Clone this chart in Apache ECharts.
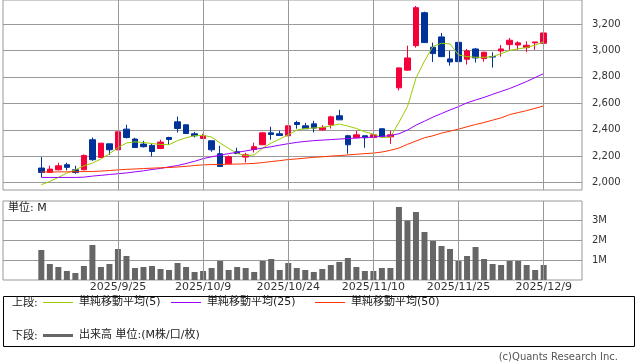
<!DOCTYPE html>
<html><head><meta charset="utf-8">
<script src="https://cdn.jsdelivr.net/npm/echarts@6/dist/echarts.min.js"></script>
<style>html,body{margin:0;padding:0;background:#fff}#c{width:638px;height:362px}</style>
</head><body><div id="c"></div>
<script>
const dates = ['2025/9/10','2025/9/11','2025/9/12','2025/9/16','2025/9/17','2025/9/18','2025/9/19','2025/9/22','2025/9/24','2025/9/25',
'2025/9/26','2025/9/29','2025/9/30','2025/10/1','2025/10/2','2025/10/3','2025/10/6','2025/10/7','2025/10/8','2025/10/9',
'2025/10/10','2025/10/14','2025/10/15','2025/10/16','2025/10/17','2025/10/20','2025/10/21','2025/10/22','2025/10/23','2025/10/24',
'2025/10/27','2025/10/28','2025/10/29','2025/10/30','2025/10/31','2025/11/4','2025/11/5','2025/11/6','2025/11/7','2025/11/10',
'2025/11/11','2025/11/12','2025/11/13','2025/11/14','2025/11/17','2025/11/18','2025/11/19','2025/11/20','2025/11/21','2025/11/25',
'2025/11/26','2025/11/27','2025/11/28','2025/12/1','2025/12/2','2025/12/3','2025/12/4','2025/12/5','2025/12/8','2025/12/9'];
const tickLabels = ['2025/9/25','2025/10/9','2025/10/24','2025/11/10','2025/11/25','2025/12/9'];
const priceTicks = [2000,2200,2400,2600,2800,3000,3200];
const volTicks = [1,2,3];

const openP  = [2111,2078,2098,2136,2098,2098,2325,2191,2294,2249, 2405,2330,2292,2282,2259,2342,2460,2438,2370,2334,
                2317,2219,2143,2234,2194,2251,2287,2377,2370,2355, 2455,2430,2445,2400,2438,2506,2355,2340,2355,2342,
                2408,2347,2717,2851,3036,3285,3024,3102,2936,3061, 2933,3011,2938,2953,2996,3044,3041,3021,3057,3054];
const closeP = [2078,2103,2128,2116,2078,2206,2174,2299,2249,2385, 2342,2266,2272,2236,2307,2327,2410,2372,2355,2355,
                2249,2123,2196,2221,2211,2272,2377,2365,2357,2430, 2440,2408,2413,2418,2498,2475,2287,2362,2340,2362,
                2347,2362,2868,2943,3323,3059,2976,2953,2913,2915, 2996,2943,2986,2950,3011,3077,3057,3039,3064,3132];
const lowP   = [2043,2073,2093,2093,2068,2093,2166,2191,2211,2249, 2334,2266,2266,2198,2254,2287,2380,2372,2342,2330,
                2234,2123,2143,2216,2153,2229,2284,2325,2357,2352, 2408,2408,2380,2392,2410,2475,2219,2340,2264,2340,
                2347,2294,2697,2845,3021,3059,2913,2950,2885,2915, 2893,2908,2915,2870,2953,2996,3004,2986,3004,3029];
const highP  = [2194,2128,2151,2151,2128,2214,2342,2299,2294,2385, 2438,2340,2317,2294,2325,2347,2500,2438,2385,2370,
                2317,2279,2206,2264,2226,2302,2380,2423,2392,2433, 2468,2453,2468,2435,2506,2551,2362,2392,2355,2365,
                2408,2392,2870,3036,3336,3293,3059,3132,2996,3087, 3011,3019,2990,2986,3041,3094,3069,3069,3064,3147];

const ma5  = [1985,2010,2040,2073,2098,2128,2148,2179,2219,2265, 2300,2309,2304,2296,2289,2288,2318,2340,2355,2358,
              2345,2300,2260,2222,2204,2210,2262,2300,2330,2362, 2398,2410,2414,2418,2430,2443,2428,2410,2385,2368,
              2342,2345,2456,2575,2790,2920,3030,3054,3049,2966, 2953,2948,2948,2953,2975,3000,3012,3022,3040,3066];
const ma25 = [2040,2040,2040,2040,2040,2042,2050,2056,2062,2068, 2074,2082,2090,2100,2108,2120,2130,2145,2162,2182,
              2196,2208,2220,2230,2240,2252,2262,2272,2284,2295, 2305,2312,2318,2322,2326,2330,2334,2338,2342,2345,
              2350,2356,2370,2398,2435,2465,2496,2523,2550,2575, 2604,2625,2645,2668,2690,2712,2738,2765,2795,2825];
const ma50 = [2081,2081,2082,2082,2083,2084,2085,2088,2092,2097, 2101,2104,2107,2110,2113,2115,2119,2124,2130,2135,
              2137,2138,2140,2141,2143,2146,2152,2160,2167,2175, 2180,2186,2192,2196,2201,2205,2210,2215,2220,2224,
              2232,2245,2262,2290,2315,2340,2355,2375,2390,2405, 2423,2440,2455,2473,2490,2515,2530,2545,2562,2581];
const volume = [1.5,0.8,0.65,0.45,0.35,0.7,1.75,0.65,0.8,1.55, 1.2,0.6,0.65,0.7,0.55,0.5,0.85,0.65,0.4,0.45,
                0.6,0.95,0.5,0.65,0.6,0.4,0.95,1.05,0.5,0.85, 0.6,0.5,0.4,0.55,0.75,0.9,1.1,0.65,0.45,0.45,
                0.6,0.6,3.65,2.97,3.4,2.4,1.95,1.7,1.55,0.95, 1.2,1.65,1.05,0.8,0.75,0.95,0.95,0.75,0.5,0.75];

const PRICE_MIN = 1945, PRICE_MAX = 3381, VOL_MIN = 0, VOL_MAX = 3.95;

const PADN = 4;
const padL = Array.from({length: PADN}, (_, k) => ' '.repeat(k + 1));
const padR = Array.from({length: PADN}, (_, k) => '  '.repeat(k + 3));
const cats = padL.concat(dates, padR);
const padArr = arr => Array(PADN).fill('-').concat(arr, Array(PADN).fill('-'));
const blankCandle = ['-', '-', '-', '-'];
const candle = Array(PADN).fill(blankCandle)
  .concat(dates.map((d, i) => [openP[i], closeP[i], lowP[i], highP[i]]), Array(PADN).fill(blankCandle));

const FONT = "'DejaVu Sans','Noto Sans CJK JP',sans-serif";
const GRID = '#999';
const UP = '#f5003a', DOWN = '#003399';
const C5 = '#99cc00', C25 = '#9900ff', C50 = '#ff3300', CV = '#666666';

// vertical grid lines at the labelled dates, spanning the full axis extent
const vLines = (lo, hi) => ({
  symbol: ['none', 'none'], silent: true, animation: false,
  label: {show: false},
  lineStyle: {color: GRID, type: 'solid', width: 1, opacity: 1},
  emphasis: {lineStyle: {width: 1}},
  data: tickLabels.map(t => [{coord: [t, lo]}, {coord: [t, hi]}])
});

const legendBase = {
  orient: 'horizontal', padding: 0, itemWidth: 30, itemHeight: 1, itemGap: 10, icon: 'rect',
  selectedMode: false, textStyle: {fontSize: 11, color: '#222', fontFamily: FONT, padding: [0, 0, 0, 1]}
};

const option = {
  animation: false,
  backgroundColor: '#fff',
  grid: [
    {left: 3, right: 56, top: 0, height: 190, show: true, borderColor: GRID, borderWidth: 1},
    {left: 3, right: 56, top: 201, height: 79, show: true, borderColor: GRID, borderWidth: 1}
  ],
  legend: [
    Object.assign({}, legendBase, {data: ['単純移動平均(5)'], left: 43, top: 297}),
    Object.assign({}, legendBase, {data: ['単純移動平均(25)'], left: 171, top: 297}),
    Object.assign({}, legendBase, {data: ['単純移動平均(50)'], left: 315, top: 297}),
    Object.assign({}, legendBase, {data: ['出来高'], left: 43, top: 330, itemHeight: 3,
      formatter: () => '出来高 単位:(M株/口/枚)'})
  ],
  xAxis: [
    {type: 'category', gridIndex: 0, data: cats, boundaryGap: true, show: false},
    {type: 'category', gridIndex: 1, data: cats, boundaryGap: true, position: 'bottom',
     axisLine: {show: false}, axisTick: {show: false}, splitLine: {show: false},
     axisLabel: {interval: (idx, val) => tickLabels.indexOf(val) >= 0, margin: 2, fontSize: 11,
       color: '#333', fontFamily: FONT, hideOverlap: false}}
  ],
  yAxis: [
    {type: 'value', gridIndex: 0, position: 'right', min: PRICE_MIN, max: PRICE_MAX,
     axisLine: {show: false}, axisTick: {show: false, customValues: priceTicks},
     splitLine: {show: true, lineStyle: {color: GRID}},
     axisLabel: {customValues: priceTicks, margin: 10, fontSize: 10, color: '#333', fontFamily: FONT,
       formatter: v => v.toLocaleString('en-US')}},
    {type: 'value', gridIndex: 1, position: 'right', min: VOL_MIN, max: VOL_MAX,
     axisLine: {show: false}, axisTick: {show: false, customValues: volTicks},
     splitLine: {show: true, lineStyle: {color: GRID}},
     axisLabel: {customValues: volTicks, margin: 10, fontSize: 10, color: '#333', fontFamily: FONT,
       formatter: v => v + 'M'}}
  ],
  series: [
    {type: 'line', name: 'helper-grid-0', xAxisIndex: 0, yAxisIndex: 0, data: padArr(ma50), symbol: 'none',
     z: 1, silent: true, lineStyle: {opacity: 0}, markLine: vLines(PRICE_MIN, PRICE_MAX)},
    {type: 'line', name: 'helper-grid-1', xAxisIndex: 1, yAxisIndex: 1, data: padArr(volume), symbol: 'none',
     z: 1, silent: true, lineStyle: {opacity: 0}, markLine: vLines(VOL_MIN, VOL_MAX)},
    {type: 'candlestick', name: '株価', xAxisIndex: 0, yAxisIndex: 0, data: candle, barWidth: 6, z: 2,
     itemStyle: {color: UP, color0: DOWN, borderColor: UP, borderColor0: DOWN, borderWidth: 1}},
    {type: 'line', name: '単純移動平均(5)', xAxisIndex: 0, yAxisIndex: 0, data: padArr(ma5), symbol: 'none',
     color: C5, itemStyle: {color: C5}, lineStyle: {color: C5, width: 1}, z: 3},
    {type: 'line', name: '単純移動平均(25)', xAxisIndex: 0, yAxisIndex: 0, data: padArr(ma25), symbol: 'none',
     color: C25, itemStyle: {color: C25}, lineStyle: {color: C25, width: 1}, z: 3},
    {type: 'line', name: '単純移動平均(50)', xAxisIndex: 0, yAxisIndex: 0, data: padArr(ma50), symbol: 'none',
     color: C50, itemStyle: {color: C50}, lineStyle: {color: C50, width: 1}, z: 3},
    {type: 'bar', name: '出来高', xAxisIndex: 1, yAxisIndex: 1, data: padArr(volume), barWidth: 6, z: 2,
     color: CV, itemStyle: {color: CV}}
  ],
  graphic: [
    {type: 'text', left: 8, top: 203, style: {text: '単位: M', font: '11px ' + FONT, fill: '#222'}},
    {type: 'rect', shape: {x: 3.5, y: 296.5, width: 631, height: 50}, style: {fill: 'none', stroke: '#000', lineWidth: 1}},
    {type: 'text', x: 12, y: 303.5, style: {text: '上段:', font: '11px ' + FONT, fill: '#222', textVerticalAlign: 'middle'}},
    {type: 'text', x: 12, y: 336.5, style: {text: '下段:', font: '11px ' + FONT, fill: '#222', textVerticalAlign: 'middle'}},
    {type: 'text', x: 618, y: 357, style: {text: '(c)Quants Research Inc.', font: '10px ' + FONT, fill: '#555', textAlign: 'right', textVerticalAlign: 'middle'}}
  ]
};
const chart = echarts.init(document.getElementById('c'));
chart.setOption(option);
</script>
</body></html>
